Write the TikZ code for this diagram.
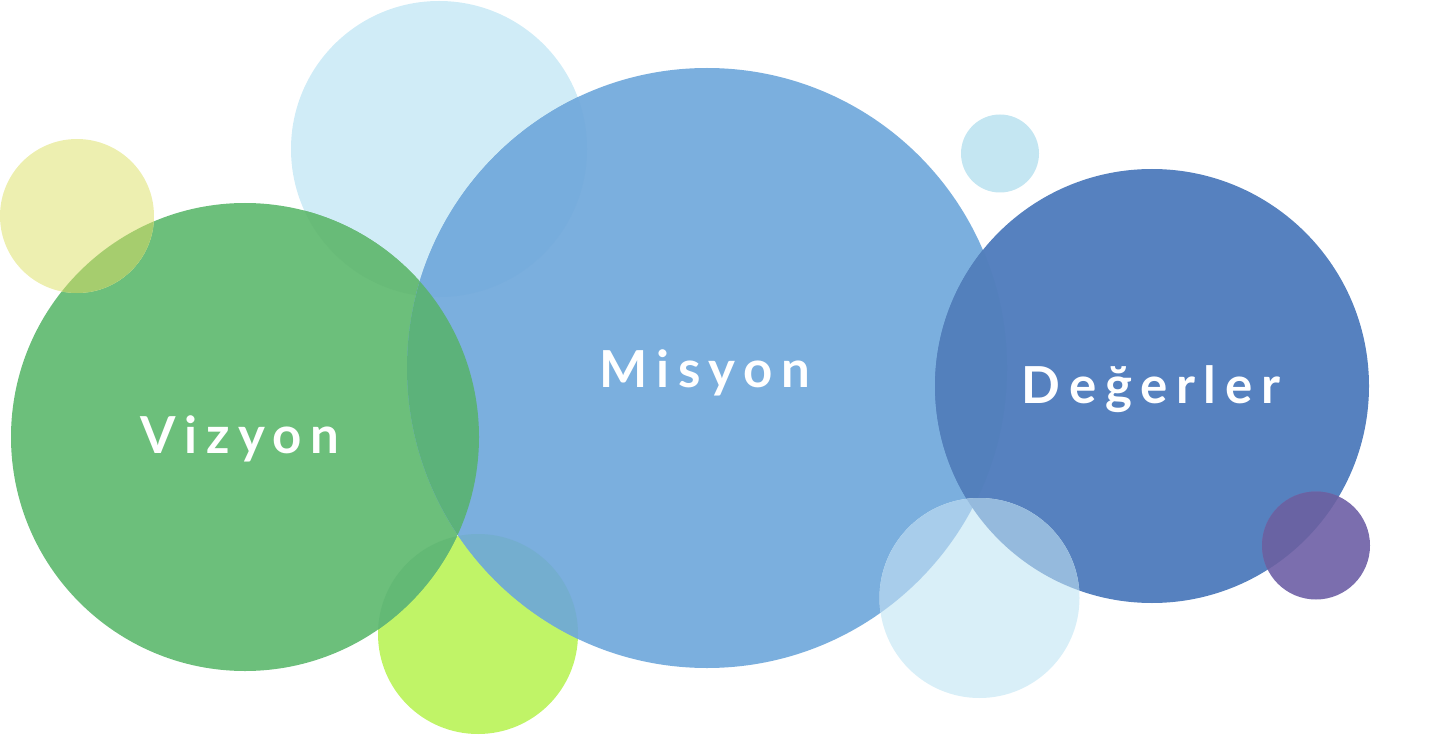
\documentclass[tikz,border=0pt]{standalone}
\usepackage{fontspec}
\setmainfont{Lato}
\definecolor{paletop}{HTML}{D0ECF7}
\definecolor{paletopgreen}{HTML}{68BB78}
\definecolor{paletopblue}{HTML}{77ADDD}
\definecolor{vgreen}{HTML}{6CBF7B}
\definecolor{mblue}{HTML}{7BAFDE}
\definecolor{mgreen}{HTML}{5CB27A}
\definecolor{yel}{HTML}{EDEFB0}
\definecolor{yelgreen}{HTML}{A6CD6E}
\definecolor{lime}{HTML}{C0F467}
\definecolor{limegreen}{HTML}{63B975}
\definecolor{limeblue}{HTML}{74AECF}
\definecolor{dblue}{HTML}{5681BF}
\definecolor{dmblue}{HTML}{5380BC}
\definecolor{palebot}{HTML}{D9EFF8}
\definecolor{palebotm}{HTML}{A8CDEB}
\definecolor{palebotd}{HTML}{95BADD}
\definecolor{purp}{HTML}{7B6EAE}
\definecolor{purpd}{HTML}{6963A3}
\definecolor{smallblue}{HTML}{C4E6F2}
\tikzset{
  lbl/.style={text=white, font=\fontsize{51}{60}\selectfont\bfseries\addfontfeature{LetterSpace=17}, inner sep=0pt, anchor=base}
}
\begin{document}
\begin{tikzpicture}[x=1pt,y=-1pt]
\useasboundingbox (0,0) rectangle (1445,735);
% centres
\coordinate (PT) at (439,149);
\coordinate (V) at (245,437);
\coordinate (M) at (707,368);
\coordinate (Y) at (77,216);
\coordinate (L) at (478,634);
\coordinate (D) at (1152,386);
\coordinate (PB) at (979.5,598);
\coordinate (P) at (1316,545.5);
\coordinate (S) at (1000,153.5);
\def\rPT{148pt}\def\rV{234pt}\def\rM{300pt}\def\rY{77pt}\def\rL{100pt}
\def\rD{217pt}\def\rPB{100pt}\def\rP{54pt}\def\rS{39pt}
% pale top circle
\fill[paletop] (PT) circle[radius=\rPT];
% lime
\fill[lime] (L) circle[radius=\rL];
% green
\fill[vgreen] (V) circle[radius=\rV];
\begin{scope}\clip (V) circle[radius=\rV]; \fill[paletopgreen] (PT) circle[radius=\rPT]; \fill[limegreen] (L) circle[radius=\rL];\end{scope}
% Misyon
\fill[mblue] (M) circle[radius=\rM];
\begin{scope}\clip (M) circle[radius=\rM];
  \fill[paletopblue] (PT) circle[radius=\rPT];
  \fill[limeblue] (L) circle[radius=\rL];
  \fill[mgreen] (V) circle[radius=\rV];
\end{scope}
% yellow
\fill[yel] (Y) circle[radius=\rY];
\begin{scope}\clip (Y) circle[radius=\rY]; \fill[yelgreen] (V) circle[radius=\rV];\end{scope}
% Degerler
\fill[dblue] (D) circle[radius=\rD];
\begin{scope}\clip (D) circle[radius=\rD]; \fill[dmblue] (M) circle[radius=\rM];\end{scope}
% pale bottom
\fill[palebot] (PB) circle[radius=\rPB];
\begin{scope}\clip (PB) circle[radius=\rPB];
  \fill[palebotm] (M) circle[radius=\rM];
  \fill[palebotd] (D) circle[radius=\rD];
\end{scope}
% purple
\fill[purp] (P) circle[radius=\rP];
\begin{scope}\clip (P) circle[radius=\rP]; \fill[purpd] (D) circle[radius=\rD];\end{scope}
% small
\fill[smallblue] (S) circle[radius=\rS];
% labels
\node[lbl] (tv) at (240,453) {Vizyon};
\node[lbl] (tm) at (705,387) {Misyon};
\node[lbl] (td) at (1151,403) {Değerler};
\end{tikzpicture}
\end{document}
